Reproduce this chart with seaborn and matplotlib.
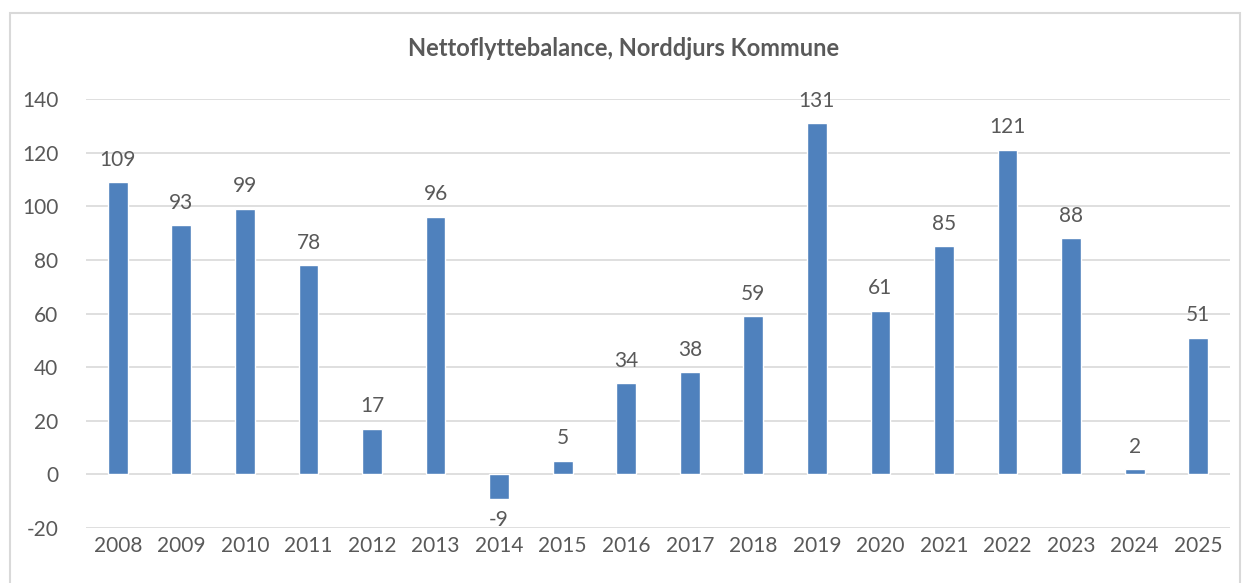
import matplotlib
matplotlib.use("Agg")
import matplotlib.pyplot as plt
import pandas as pd
import seaborn as sns
from matplotlib.patches import Rectangle

# data
years = [str(y) for y in range(2008, 2026)]
values = [109, 93, 99, 78, 17, 96, -9, 5, 34, 38, 59, 131, 61, 85, 121, 88, 2, 51]
y_ticks = [-20, 0, 20, 40, 60, 80, 100, 120, 140]

df = pd.DataFrame({"year": years, "value": values})

sns.set_style("white")
plt.rcParams["font.family"] = ["Lato", "DejaVu Sans"]
plt.rcParams["axes.unicode_minus"] = False

text_col = "#595959"
grid_col = "#D9D9D9"
bar_col = "#4F81BD"

fig = plt.figure(figsize=(12.48, 5.83), dpi=100)
ax = fig.add_axes([86 / 1248, 1 - 528 / 583, (1230 - 86) / 1248, (528 - 99) / 583])

sns.barplot(data=df, x="year", y="value", order=years, color=bar_col,
            width=0.31, saturation=1, ax=ax, zorder=3)

ax.set_ylim(-20, 140)
ax.set_xlim(-0.5, len(years) - 0.5)
ax.set_yticks(y_ticks)
for t in y_ticks:
    ax.axhline(t, color=grid_col, lw=1.2, zorder=1)

for i, v in enumerate(values):
    off = 9 if v >= 0 else -8
    ax.annotate(str(v), (i, v), xytext=(0, off), textcoords="offset points",
                ha="center", va="bottom" if v >= 0 else "top",
                fontsize=15, color=text_col)

ax.set_xlabel("")
ax.set_ylabel("")
ax.tick_params(axis="both", length=0, labelsize=15, labelcolor=text_col)
ax.tick_params(axis="y", pad=20)
ax.tick_params(axis="x", pad=6)
for s in ax.spines.values():
    s.set_visible(False)

fig.text(0.5, 1 - 48 / 583, "Nettoflyttebalance, Norddjurs Kommune",
         ha="center", va="center", fontsize=17, fontweight="bold", color=text_col)

# light chart border like the Excel chart frame
fig.patches.append(Rectangle((10 / 1248, -0.01), 1230 / 1248, 1 - 13 / 583 + 0.01,
                             transform=fig.transFigure, fill=False,
                             edgecolor=grid_col, lw=1.5))

fig.savefig("out.png", dpi=100)
